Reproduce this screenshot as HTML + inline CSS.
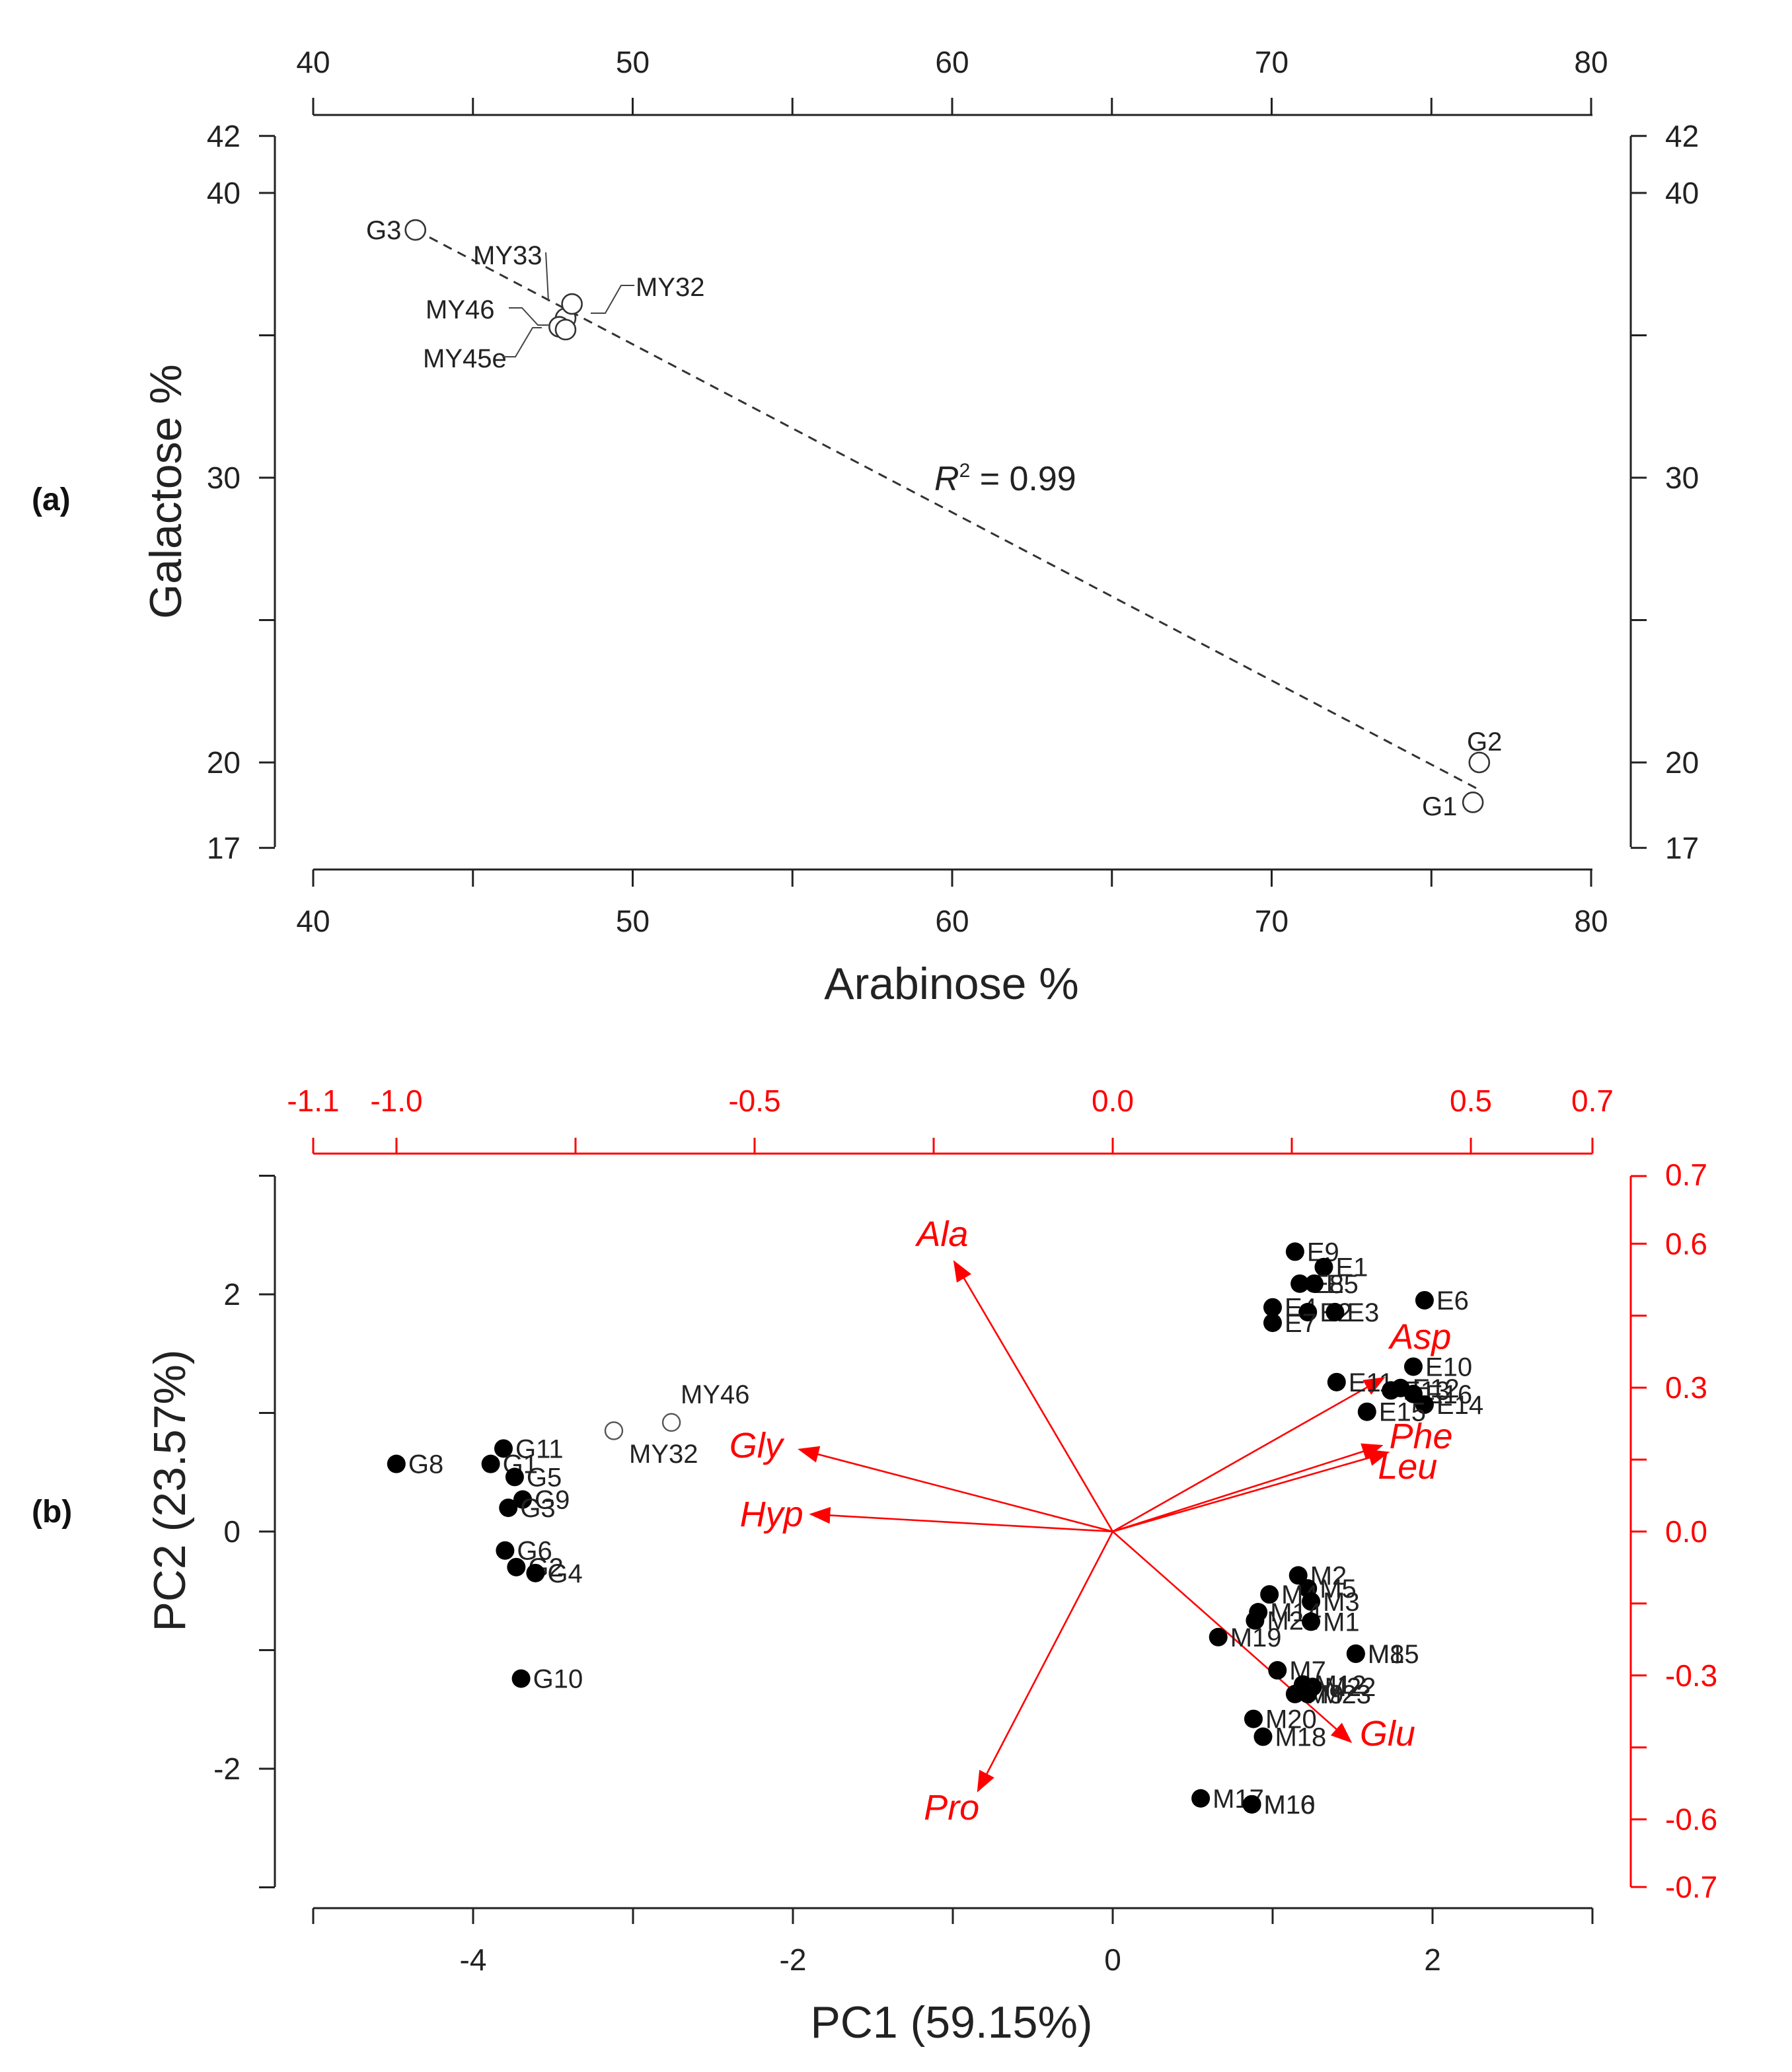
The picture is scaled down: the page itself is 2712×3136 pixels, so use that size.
<!DOCTYPE html>
<html><head><meta charset="utf-8"><style>
html,body{margin:0;padding:0;background:#fff;}
svg{display:block;}
text{font-family:"Liberation Sans",sans-serif;}
</style></head><body>
<svg id="fig" xmlns="http://www.w3.org/2000/svg" width="2712" height="3136" viewBox="0 0 1356 1568">
<rect x="0" y="0" width="1356" height="1568" fill="#fff"/>
<g id="pa"></g>
<g id="pb"></g>
</svg>
<script>
// ---------- Panel (a) data ----------
const aLabels = ["G3","MY33","MY32","MY46","MY45e","G2","G1"];
const aArabinose = [43.2,47.9,48.1,47.7,47.9,76.5,76.3];
const aGalactose = [38.7,35.6,36.1,35.3,35.2,20.0,18.6];
const aTrendX = [43.2,76.4];
const aTrendY = [38.7,19.1];
const aXTicks = [40,45,50,55,60,65,70,75,80];
const aXTickLabels = [40,50,60,70,80];
const aYTicks = [42,40,35,30,25,20,17];
const aYTickLabels = [42,40,30,20,17];
// ---------- Panel (b) data ----------
const bLabels = ["G8","G11","G1","G5","G9","G3","G6","G2","G4","G10",
 "E9","E1","E8","E5","E6","E4","E2","E3","E7","E10","E11","E13","E12","E16","E14","E15",
 "M2","M5","M4","M3","M14","M21","M1","M19","M8","M15","M7","M12","M22","M9","M23","M20","M18","M17","M16","M10"];
const bPC1 = [-4.48,-3.81,-3.89,-3.74,-3.69,-3.78,-3.80,-3.73,-3.61,-3.70,
 1.14,1.32,1.17,1.26,1.95,1.00,1.22,1.39,1.00,1.88,1.40,1.74,1.80,1.88,1.95,1.59,
 1.16,1.22,0.98,1.24,0.91,0.89,1.24,0.66,1.52,1.52,1.03,1.19,1.25,1.14,1.22,0.88,0.94,0.55,0.87,0.87];
const bPC2 = [0.57,0.70,0.57,0.46,0.27,0.20,-0.16,-0.30,-0.35,-1.24,
 2.36,2.23,2.09,2.09,1.95,1.89,1.85,1.85,1.76,1.39,1.26,1.19,1.21,1.16,1.07,1.01,
 -0.37,-0.48,-0.53,-0.59,-0.68,-0.75,-0.76,-0.89,-1.03,-1.03,-1.17,-1.29,-1.31,-1.37,-1.37,-1.58,-1.73,-2.25,-2.30,-2.30];
const myLabels = ["MY32","MY46"];
const myPC1 = [-3.12,-2.76];
const myPC2 = [0.85,0.92];
const loadNames = ["Ala","Gly","Hyp","Pro","Asp","Phe","Leu","Glu"];
const loadX = [-0.221,-0.437,-0.421,-0.188,0.378,0.375,0.384,0.332];
const loadY = [0.562,0.171,0.036,-0.540,0.320,0.179,0.165,-0.438];
const bXTicks = [-5,-4,-3,-2,-1,0,1,2,3];
const bXTickLabels = [-4,-2,0,2];
const bYTicks = [-3,-2,-1,0,1,2,3];
const bYTickLabels = [-2,0,2];
const topTicks = [-1.0,-0.75,-0.5,-0.25,0.0,0.25,0.5];
const topTickLabels = ["-1.0","-0.5","0.0","0.5"];
const rightTicks = [0.6,0.45,0.3,0.15,0.0,-0.15,-0.3,-0.45,-0.6];
const rightTickLabels = ["0.6","0.3","0.0","-0.3","-0.6"];

const NS="http://www.w3.org/2000/svg";
function mk(parent,tag,attrs,txt){const e=document.createElementNS(NS,tag);for(const k in attrs)e.setAttribute(k,attrs[k]);if(txt!==undefined)e.textContent=txt;parent.appendChild(e);return e;}

const xa=v=>237+(v-40)*24.175, ya=v=>146+(40-v)*21.55;
const xb=v=>842+v*121, yb=v=>1159-v*89.75;
const lx=v=>842+v*542, ly=v=>1159-v*363;

const pa=document.getElementById('pa');
const pb=document.getElementById('pb');

let e;
e=mk(pa,'line',{x1:237,y1:658,x2:1205,y2:658,stroke:'#222','stroke-width':1.5});

e=mk(pa,'line',{x1:237,y1:87,x2:1205,y2:87,stroke:'#222','stroke-width':1.5});

e=mk(pa,'line',{x1:208,y1:103,x2:208,y2:641,stroke:'#222','stroke-width':1.5});

e=mk(pa,'line',{x1:1234,y1:103,x2:1234,y2:641,stroke:'#222','stroke-width':1.5});

aXTicks.forEach(v=>{
  e=mk(pa,'line',{x1:xa(v),y1:658,x2:xa(v),y2:671,stroke:'#222','stroke-width':1.5});
  
  e=mk(pa,'line',{x1:xa(v),y1:87,x2:xa(v),y2:74,stroke:'#222','stroke-width':1.5});
  
});
aXTickLabels.forEach(v=>{
  e=mk(pa,'text',{x:xa(v),y:705,'font-size':23,'text-anchor':'middle',fill:'#222'},v);
  
  e=mk(pa,'text',{x:xa(v),y:55,'font-size':23,'text-anchor':'middle',fill:'#222'},v);
  
});
aYTicks.forEach(v=>{
  e=mk(pa,'line',{x1:196,y1:ya(v),x2:208,y2:ya(v),stroke:'#222','stroke-width':1.5});
  
  e=mk(pa,'line',{x1:1234,y1:ya(v),x2:1246,y2:ya(v),stroke:'#222','stroke-width':1.5});
  
});
aYTickLabels.forEach(v=>{
  e=mk(pa,'text',{x:182,y:ya(v)+8,'font-size':23,'text-anchor':'end',fill:'#222'},v);
  
  e=mk(pa,'text',{x:1260,y:ya(v)+8,'font-size':23,'text-anchor':'start',fill:'#222'},v);
  
});
e=mk(pa,'text',{x:720,y:756,'font-size':34,'text-anchor':'middle',fill:'#222'},'Arabinose %');

e=mk(pa,'text',{x:0,y:0,'font-size':34,'text-anchor':'middle',fill:'#222',transform:'translate(137,372) rotate(-90)'},'Galactose %');

e=mk(pa,'text',{x:24,y:386,'font-size':24,'font-weight':'bold',fill:'#111','font-family':'Liberation Serif, serif'},'(a)');

e=mk(pa,'line',{x1:xa(aTrendX[0]),y1:ya(aTrendY[0]),x2:xa(aTrendX[1]),y2:ya(aTrendY[1]),stroke:'#333','stroke-width':1.5,'stroke-dasharray':'7,5'});

e=mk(pa,'text',{x:707,y:371,'font-size':26,fill:'#222'});

e.innerHTML='<tspan font-style="italic">R</tspan><tspan dy="-10" font-size="15">2</tspan><tspan dy="10"> = 0.99</tspan>';
aLabels.forEach((n,i)=>{
  e=mk(pa,'circle',{cx:xa(aArabinose[i]),cy:ya(aGalactose[i]),r:7.5,fill:'#fff',stroke:'#333','stroke-width':1.3});
  
});
const aLab=[["G3",277,181,null],["MY33",358,200,"M413,191 L415,228"],["MY32",481,224,"M447,237 L458,237 L470,216 L480,216"],
 ["MY46",322,241,"M385,233 L395,233 L407,246 L415,246"],["MY45e",320,278,"M380,270 L390,270 L403,248 L410,248"],["G2",1110,568,null],["G1",1076,617,null]];
aLab.forEach(l=>{
  e=mk(pa,'text',{x:l[1],y:l[2],'font-size':20,fill:'#222'},l[0]);
  
  if(l[3]){e=mk(pa,'path',{d:l[3],fill:'none',stroke:'#444','stroke-width':1});
  }
});

e=mk(pb,'line',{x1:237,y1:1444,x2:1205,y2:1444,stroke:'#222','stroke-width':1.5});

e=mk(pb,'line',{x1:208,y1:890,x2:208,y2:1428,stroke:'#222','stroke-width':1.5});

e=mk(pb,'line',{x1:237,y1:873,x2:1205,y2:873,stroke:'#f00','stroke-width':1.5});

e=mk(pb,'line',{x1:1234,y1:890,x2:1234,y2:1428,stroke:'#f00','stroke-width':1.5});

bXTicks.forEach(v=>{e=mk(pb,'line',{x1:xb(v),y1:1444,x2:xb(v),y2:1456,stroke:'#222','stroke-width':1.5});
  });
bXTickLabels.forEach(v=>{e=mk(pb,'text',{x:xb(v),y:1491,'font-size':23,'text-anchor':'middle',fill:'#222'},v);
  });
bYTicks.forEach(v=>{e=mk(pb,'line',{x1:196,y1:yb(v),x2:208,y2:yb(v),stroke:'#222','stroke-width':1.5});
  });
bYTickLabels.forEach(v=>{e=mk(pb,'text',{x:182,y:yb(v)+8,'font-size':23,'text-anchor':'end',fill:'#222'},v);
  });
[237,1205].concat(topTicks.map(lx)).forEach(x=>{e=mk(pb,'line',{x1:x,y1:873,x2:x,y2:861,stroke:'#f00','stroke-width':1.5});
  });
topTickLabels.forEach(s=>{e=mk(pb,'text',{x:lx(parseFloat(s)),y:841,'font-size':23,'text-anchor':'middle',fill:'#f00'},s);
  });
e=mk(pb,'text',{x:237,y:841,'font-size':23,'text-anchor':'middle',fill:'#f00'},'-1.1');

e=mk(pb,'text',{x:1205,y:841,'font-size':23,'text-anchor':'middle',fill:'#f00'},'0.7');

[890,1428].concat(rightTicks.map(ly)).forEach(y=>{e=mk(pb,'line',{x1:1234,y1:y,x2:1246,y2:y,stroke:'#f00','stroke-width':1.5});
  });
rightTickLabels.forEach(s=>{e=mk(pb,'text',{x:1260,y:ly(parseFloat(s))+8,'font-size':23,fill:'#f00'},s);
  });
e=mk(pb,'text',{x:1260,y:897,'font-size':23,fill:'#f00'},'0.7');

e=mk(pb,'text',{x:1260,y:1436,'font-size':23,fill:'#f00'},'-0.7');

e=mk(pb,'text',{x:720,y:1542,'font-size':34,'text-anchor':'middle',fill:'#222'},'PC1 (59.15%)');

e=mk(pb,'text',{x:0,y:0,'font-size':34,'text-anchor':'middle',fill:'#222',transform:'translate(140,1128) rotate(-90)'},'PC2 (23.57%)');

e=mk(pb,'text',{x:24,y:1152,'font-size':24,'font-weight':'bold',fill:'#111','font-family':'Liberation Serif, serif'},'(b)');


const defs=mk(document.getElementById('fig'),'defs',{});
mk(defs,'marker',{id:'ah',viewBox:'0 0 10 10',refX:9,refY:5,markerWidth:16,markerHeight:16,orient:'auto',markerUnits:'userSpaceOnUse'}).innerHTML='<path d="M0,1 L10,5 L0,9 z" fill="#f00"/>';
const lblOff={Ala:[-9,-21],Gly:[-33,-3],Hyp:[-30,0],Pro:[-20,13],Asp:[28,-31],Phe:[30,-7],Leu:[15,11],Glu:[28,-6]};
loadNames.forEach((n,i)=>{
  e=mk(pb,'line',{x1:842,y1:1159,x2:lx(loadX[i]),y2:ly(loadY[i]),stroke:'#f00','stroke-width':1.3,'marker-end':'url(#ah)'});
  
  const o=lblOff[n];
  e=mk(pb,'text',{x:lx(loadX[i])+o[0],y:ly(loadY[i])+o[1]+9,'font-size':27,'font-style':'italic','text-anchor':'middle',fill:'#f00'},n);
  
});
bLabels.forEach((n,i)=>{
  e=mk(pb,'circle',{cx:xb(bPC1[i]),cy:yb(bPC2[i]),r:7,fill:'#000'});
  
  e=mk(pb,'text',{x:xb(bPC1[i])+9,y:yb(bPC2[i])+7,'font-size':20,fill:'#222'},n);
  
});
myLabels.forEach((n,i)=>{
  e=mk(pb,'circle',{cx:xb(myPC1[i]),cy:yb(myPC2[i]),r:6.5,fill:'#fff',stroke:'#555','stroke-width':1.2});
  
});
e=mk(pb,'text',{x:476,y:1107,'font-size':20,fill:'#222'},'MY32');

e=mk(pb,'text',{x:515,y:1062,'font-size':20,fill:'#222'},'MY46');

</script>
</body></html>
